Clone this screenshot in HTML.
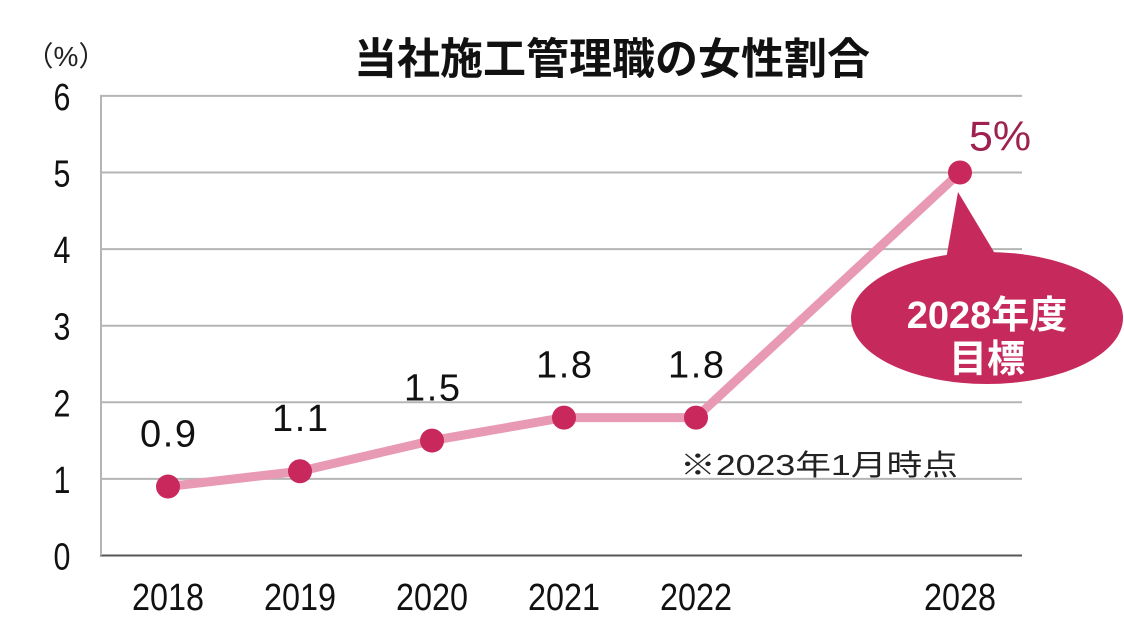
<!DOCTYPE html>
<html><head><meta charset="utf-8"><style>
html,body{margin:0;padding:0;background:#fff;}
svg{display:block;}
text{font-family:"Liberation Sans","Noto Sans CJK JP",sans-serif;}
</style></head><body>
<svg id="chart" width="1124" height="621" viewBox="0 0 1124 621" xmlns="http://www.w3.org/2000/svg">
<text x="612" y="74" text-anchor="middle" font-size="43" font-weight="bold" fill="#111">当社施工管理職の女性割合</text>
<text x="66" y="66" text-anchor="middle" font-size="28" fill="#222">（%）</text>
<g id="grid"></g><g id="yticks"></g><g id="xticks"></g><g id="series"></g>
<path d="M958,192 L945,265 L1000,262 Z" fill="#c62a5c"/>
<ellipse cx="987" cy="318" rx="136" ry="66" fill="#c62a5c"/>
<text x="987" y="328" text-anchor="middle" font-size="38" font-weight="bold" fill="#fff">2028年度</text>
<text x="987" y="372" text-anchor="middle" font-size="38" font-weight="bold" fill="#fff">目標</text>
<text x="680" y="475" font-size="29" fill="#222" textLength="278" lengthAdjust="spacingAndGlyphs">※2023年1月時点</text>
</svg>
<script>
const categories=["2018","2019","2020","2021","2022","2028"];
const slots=[0,1,2,3,4,6];
const values=[0.9,1.1,1.5,1.8,1.8,5];
const valueLabels=["0.9","1.1","1.5","1.8","1.8","5%"];
const yTicks=[0,1,2,3,4,5,6];
const NS="http://www.w3.org/2000/svg";
const x=s=>168+132*s;
const y=v=>555.5-76.6*v;
function mk(tag,attrs,parent,txt){const e=document.createElementNS(NS,tag);for(const k in attrs)e.setAttribute(k,attrs[k]);if(txt!==undefined)e.textContent=txt;document.getElementById(parent).appendChild(e);return e;}
yTicks.forEach(t=>{
  const l=mk('line',{x1:100,x2:1022,y1:y(t),y2:y(t),stroke:t===0?'#555':'#b5b5b5','stroke-width':2},'grid');
  
  
  const tx=mk('text',{x:62,y:y(t)+14,'text-anchor':'middle','font-size':38,fill:'#111',transform:`translate(62,0) scale(0.8,1) translate(-62,0)`},'yticks',String(t));
  
  
});
const ax=mk('line',{x1:101,x2:101,y1:y(6),y2:y(0),stroke:'#b5b5b5','stroke-width':2},'grid');


categories.forEach((c,i)=>{
  const t=mk('text',{x:x(slots[i]),y:610,'text-anchor':'middle','font-size':38,fill:'#111',textLength:72,lengthAdjust:'spacingAndGlyphs'},'xticks',c);
  
  
});
const pts=values.map((v,i)=>x(slots[i])+','+y(v)).join(' ');
const pl=mk('polyline',{points:pts,fill:'none',stroke:'#e89ab5','stroke-width':9,'stroke-linejoin':'round'},'series');


values.forEach((v,i)=>{
  const c=mk('circle',{cx:x(slots[i]),cy:y(v),r:12,fill:'#c8285c'},'series');
  
  
  const last=i===values.length-1;
  const lb=mk('text',{x:last?x(slots[i])+40:x(slots[i]),y:last?y(v)-22:y(v)-40,'text-anchor':'middle','font-size':last?42:38,fill:last?'#9e2150':'#111',textLength:last?62:56,lengthAdjust:last?'spacingAndGlyphs':'spacing'},'series',valueLabels[i]);
  
  
});
</script>
</body></html>
